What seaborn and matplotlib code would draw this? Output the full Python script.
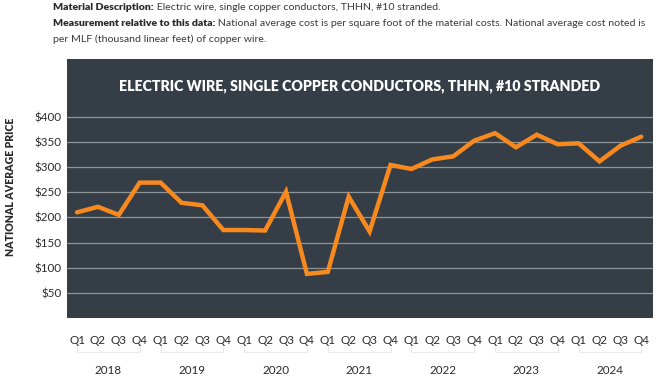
import numpy as np
import pandas as pd
import seaborn as sns
import matplotlib.pyplot as plt

years = ["2018", "2019", "2020", "2021", "2022", "2023", "2024"]
quarters = ["Q1", "Q2", "Q3", "Q4"]
prices = [210, 221, 205, 269, 269, 229, 224, 175, 175, 174, 251, 88,
          92, 241, 172, 304, 296, 315, 321, 352, 367, 339, 364, 345,
          347, 311, 342, 360]
ytick_values = [50, 100, 150, 200, 250, 300, 350, 400]
ytick_labels = ["$50", "$100", "$150", "$200", "$250", "$300", "$350", "$400"]

title = "ELECTRIC WIRE, SINGLE COPPER CONDUCTORS, THHN, #10 STRANDED"
ylabel = "NATIONAL AVERAGE PRICE"

periods = [f"{y} {q}" for y in years for q in quarters]
df = pd.DataFrame({"period": periods, "price": prices})

sns.set_style("white")
plt.rcParams["font.family"] = ["Lato", "DejaVu Sans"]

bg = "#353e46"
orange = "#f7891f"
text_col = "#2b2b2b"

fig = plt.figure(figsize=(6.58, 3.76), dpi=100)
ax = fig.add_axes([0.1018, 0.1535, 0.8906, 0.6895])
ax.set_facecolor(bg)

sns.lineplot(data=df, x="period", y="price", color=orange, linewidth=3.2,
             ax=ax, zorder=3, solid_joinstyle="miter")

ax.set_ylim(0, 514)
ax.set_xlim(-0.48, len(periods) - 0.44)
ax.set_yticks(ytick_values)
ax.set_yticklabels(ytick_labels, fontsize=8.4, color=text_col)
ax.grid(axis="y", color="#8d959b", linewidth=0.9)
ax.set_axisbelow(True)
ax.set_xticks(range(len(periods)))
ax.set_xticklabels(quarters * len(years), fontsize=8.4, color=text_col)
ax.tick_params(axis="y", length=0, pad=4)
ax.tick_params(axis="x", length=8, color="#e8eaec", width=0.8, pad=4)
for s in ax.spines.values():
    s.set_visible(False)
ax.set_xlabel("")
ax.set_ylabel(ylabel, fontsize=7.6, fontweight="heavy", color=text_col)
ax.yaxis.set_label_coords(-0.087, 0.506)

ax.text(0.5, 0.895, title, transform=ax.transAxes, ha="center", va="center",
        color="white", fontsize=10.2, fontweight="heavy")

# year brackets and labels below the quarter labels
trans = ax.get_xaxis_transform()
for i, yr in enumerate(years):
    x0, x1 = i * 4, i * 4 + 3
    ax.plot([x0, x0, x1, x1], [-0.105, -0.13, -0.13, -0.105], transform=trans,
            color="#e8eaec", linewidth=0.8, clip_on=False)
    ax.text((x0 + x1) / 2, -0.2, yr, transform=trans, ha="center",
            va="center", fontsize=8.4, color=text_col)

# header description text with bold lead-ins
fig.canvas.draw()
renderer = fig.canvas.get_renderer()
header = [
    ("Material Description:", " Electric wire, single copper conductors, THHN, #10 stranded.", 1 - 8 / 376),
    ("Measurement relative to this data:", " National average cost is per square foot of the material costs. National average cost noted is", 1 - 24 / 376),
    ("", "per MLF (thousand linear feet) of copper wire.", 1 - 39 / 376),
]
x_start = 53 / 658
for bold, rest, yy in header:
    x = x_start
    if bold:
        t = fig.text(x, yy, bold, fontsize=7.55, fontweight="heavy",
                     color=text_col, va="center")
        bb = t.get_window_extent(renderer)
        x = bb.x1 / fig.bbox.width
    fig.text(x, yy, rest, fontsize=7.55, color="#3a3a3a", va="center")

fig.savefig("out.png", dpi=100, facecolor="white")
